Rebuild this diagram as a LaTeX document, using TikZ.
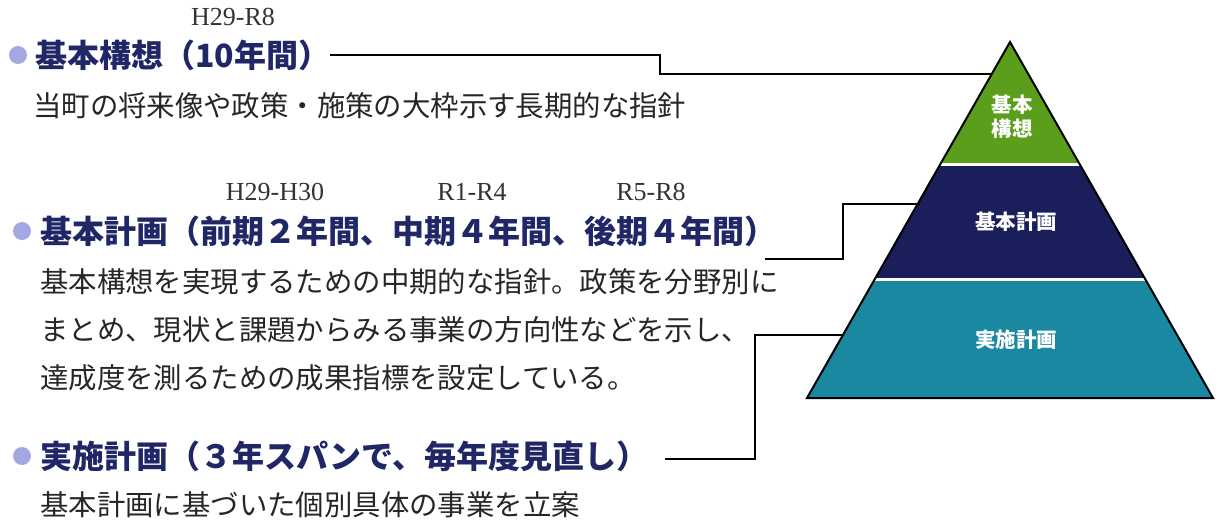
\documentclass[tikz,border=0pt]{standalone}
\usepackage{fontspec}
\setmainfont{Noto Sans CJK JP}
\newfontfamily\yrfont{Liberation Serif}
\definecolor{headnavy}{HTML}{1F2766}
\definecolor{bulletc}{HTML}{A3A8E3}
\definecolor{pgreen}{HTML}{5A9E1C}
\definecolor{pnavy}{HTML}{1A1F5C}
\definecolor{pteal}{HTML}{1A88A0}
\begin{document}
\begin{tikzpicture}[x=1pt,y=-1pt,
  heading/.style={anchor=west,inner sep=0pt,text=headnavy,font=\fontsize{32}{38}\selectfont\bfseries},
  body/.style={anchor=west,inner sep=0pt,text=black!85,font=\fontsize{28.4}{34}\selectfont},
  yr/.style={inner sep=0pt,text=black!80,font=\yrfont\fontsize{26}{28}\selectfont},
  bul/.style={circle,fill=bulletc,minimum size=18pt,inner sep=0pt},
  conn/.style={draw=black,line width=1.7pt},
  plabel/.style={text=white,font=\fontsize{20.5}{25}\selectfont\bfseries,align=center,inner sep=0pt}]
\useasboundingbox (0,0) rectangle (1218,522);
% ---- pyramid ----
\coordinate (apex) at (1010,42);
\coordinate (bl) at (807,398);
\coordinate (br) at (1213,398);
\coordinate (g1) at (940.1,164);
\coordinate (g2) at (1079.9,164);
\coordinate (n1) at (874.2,279);
\coordinate (n2) at (1145.8,279);
\fill[pgreen] (apex) -- (g2) -- (g1) -- cycle;
\fill[pnavy] (g1) -- (g2) -- (n2) -- (n1) -- cycle;
\fill[pteal] (n1) -- (n2) -- (br) -- (bl) -- cycle;
\draw[white,line width=3pt] (g1) -- (g2);
\draw[white,line width=3pt] (n1) -- (n2);
\draw[black,line width=2pt,line join=miter] (apex) -- (br) -- (bl) -- cycle;
\node[plabel] (pl1) at (1012,117) {基本\\[-1pt]構想};
\node[plabel] (pl2) at (1016,222) {基本計画};
\node[plabel] (pl3) at (1016,340) {実施計画};
% ---- section 1 ----
\node[yr] (y1) at (233,17) {H29-R8};
\node[bul] (b1) at (18,55) {};
\node[heading] (h1) at (35,55) {基本構想（10年間）};
\node[body] (t1) at (33,106) {当町の将来像や政策・施策の大枠示す長期的な指針};
% ---- section 2 ----
\node[yr] (y2a) at (275,192) {H29-H30};
\node[yr] (y2b) at (472,192) {R1-R4};
\node[yr] (y2c) at (651,192) {R5-R8};
\node[bul] (b2) at (22,231) {};
\node[heading] (h2) at (40,231) {基本計画（前期２年間、中期４年間、後期４年間）};
\node[body] (t2a) at (40,282) {基本構想を実現するための中期的な指針。政策を分野別に};
\node[body] (t2b) at (40,330) {まとめ、現状と課題からみる事業の方向性などを示し、};
\node[body] (t2c) at (40,378) {達成度を測るための成果指標を設定している。};
% ---- section 3 ----
\node[bul] (b3) at (22,456) {};
\node[heading] (h3) at (40,456) {実施計画（３年スパンで、毎年度見直し）};
\node[body] (t3) at (40,505) {基本計画に基づいた個別具体の事業を立案};
% ---- connectors ----
\coordinate (s1) at (h1.east);
\coordinate (k1) at (660,65);
\coordinate (p1) at (992,74);
\draw[conn] (s1) -| (k1) |- (p1);
\coordinate (s2) at (765,259);
\coordinate (k2) at (843,230);
\coordinate (p2) at (920,204);
\draw[conn] (s2) -| (k2) |- (p2);
\coordinate (s3) at (665,459);
\coordinate (k3) at (755,400);
\coordinate (p3) at (843,335);
\draw[conn] (s3) -| (k3) |- (p3);
\end{tikzpicture}
\end{document}
